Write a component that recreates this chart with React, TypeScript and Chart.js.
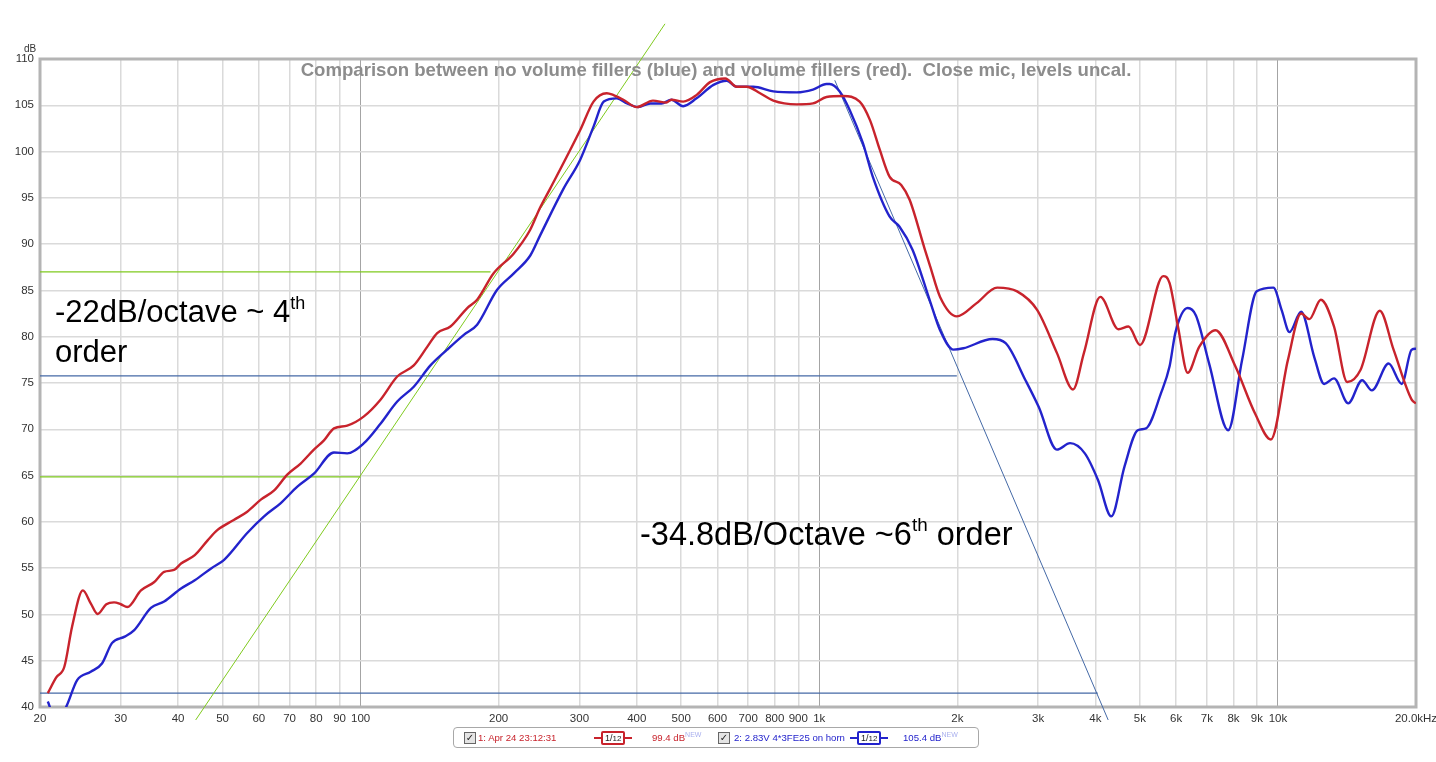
import React, { useEffect, useRef } from 'react';
import { Chart, registerables } from 'chart.js';

Chart.register(...registerables);

// ---- data (frequency Hz, level dB) ----
const redFreq = [20.8, 21.7, 22.6, 23.5, 24.8, 25.8, 26.7, 27.9, 29.0, 30.0, 31.0, 33.2, 35.5, 37.3, 39.2, 40.6, 43.5, 46.4, 48.7, 52.9, 56.6, 60.6, 64.8, 69.2, 74.0, 79.1, 83.2, 87.5, 93.5, 101.7, 110.5, 120.2, 130.6, 139.7, 146.9, 157, 170.8, 179.5, 195, 215.8, 234, 246, 259, 301, 322, 344, 356, 374, 400, 434, 464, 476, 505, 540, 578, 624, 661, 694, 743, 794, 893, 969, 1037, 1126, 1225, 1290, 1355, 1423, 1509, 1574, 1696, 1745, 1834, 1995, 2200, 2443, 2700, 2985, 3300, 3575, 3774, 4100, 4492, 4724, 5005, 5621, 5805, 6054, 6358, 6735, 7310, 8075, 8915, 9652, 10515, 11233, 11710, 12405, 13254, 14165, 15135, 16670, 17870, 19570, 20000];
const redDb = [41.5, 43.2, 44.35, 48.7, 52.6, 51.2, 50.05, 51.1, 51.3, 51.1, 50.8, 52.6, 53.5, 54.6, 54.8, 55.5, 56.4, 58.0, 59.1, 60.2, 61.1, 62.4, 63.4, 65.1, 66.3, 67.8, 68.8, 70.1, 70.4, 71.4, 73.2, 75.7, 76.9, 78.9, 80.4, 81.1, 83.1, 84.0, 86.85, 89.0, 91.5, 93.9, 96.0, 102.3, 105.4, 106.3, 106.1, 105.6, 104.8, 105.5, 105.3, 105.6, 105.4, 106.1, 107.5, 107.9, 107.0, 107.0, 106.3, 105.5, 105.1, 105.2, 105.9, 106.0, 105.4, 103.4, 100.2, 97.3, 96.4, 94.8, 89.55, 87.6, 84.3, 82.2, 83.6, 85.3, 84.9, 82.9, 78.2, 74.3, 78.2, 84.3, 80.8, 81.1, 79.1, 86.55, 85.8, 81.1, 76.1, 78.9, 80.7, 76.8, 71.7, 68.9, 77.5, 82.5, 81.9, 84.0, 81.1, 75.1, 76.4, 82.8, 78.6, 73.2, 72.8];

const blueFreq = [20.8, 21.7, 22.8, 24.1, 25.8, 27.3, 28.7, 30.6, 32.1, 34.9, 37.3, 40.6, 43.5, 47.3, 50.4, 56.6, 61.6, 66.9, 72.8, 79.1, 87.5, 93.5, 101.7, 110.5, 120.2, 130.6, 142, 154.4, 167.9, 179.5, 198.3, 215.8, 234.6, 246.6, 277, 301, 322, 339, 362, 381, 403, 428, 453, 476, 505, 540, 588, 629, 661, 718, 794, 893, 969, 1037, 1054, 1108, 1165, 1245, 1308, 1423, 1495, 1597, 1745, 1834, 1962, 2062, 2386, 2549, 2816, 3010, 3296, 3522, 3793, 4054, 4332, 4630, 4948, 5158, 5560, 5805, 5980, 6358, 6625, 7080, 7790, 8355, 8990, 9775, 10185, 10600, 11233, 12000, 12615, 13254, 14234, 15260, 16030, 17430, 18620, 19570, 20000];
const blueDb = [40.6, 38.5, 40.0, 42.9, 43.8, 44.7, 46.9, 47.6, 48.3, 50.7, 51.4, 52.8, 53.7, 55.0, 55.9, 58.8, 60.6, 62.0, 63.8, 65.2, 67.5, 67.4, 68.5, 70.6, 73.0, 74.6, 76.9, 78.6, 80.2, 81.3, 85.05, 86.85, 88.8, 91.0, 96.0, 99.1, 102.7, 105.4, 105.75, 105.2, 104.8, 105.2, 105.2, 105.6, 104.9, 105.75, 107.2, 107.65, 107.0, 107.0, 106.5, 106.4, 106.7, 107.3, 107.3, 106.5, 104.5, 100.9, 97.3, 93.0, 91.9, 89.4, 83.8, 80.7, 78.6, 78.75, 79.75, 79.3, 75.3, 72.4, 67.8, 68.5, 67.4, 64.5, 60.6, 66.0, 69.9, 70.1, 73.9, 76.8, 80.5, 83.1, 82.3, 77.1, 69.9, 77.5, 84.9, 85.3, 82.9, 80.5, 82.7, 77.8, 74.9, 75.5, 72.8, 75.3, 74.2, 77.1, 74.9, 78.6, 78.7];

const xTickValues = [20, 30, 40, 50, 60, 70, 80, 90, 100, 200, 300, 400, 500, 600, 700, 800, 900, 1000, 2000, 3000, 4000, 5000, 6000, 7000, 8000, 9000, 10000, 20000];
const xTickLabels = ['20', '30', '40', '50', '60', '70', '80', '90', '100', '200', '300', '400', '500', '600', '700', '800', '900', '1k', '2k', '3k', '4k', '5k', '6k', '7k', '8k', '9k', '10k', '20.0kHz'];
const decadeTicks = [100, 1000, 10000];

// annotation lines (frequency, dB)
const greenSlopeF = [43.7, 461];
const greenSlopeDb = [38.6, 113.8];
const greenLevelDb = [87.0, 64.85];
const greenLevelEndF = [192, 100];
const blueSlopeF = [1081, 4265];
const blueSlopeDb = [107.7, 38.6];
const blueLevelDb = [75.76, 41.5];
const blueLevelEndF = [1995, 4047];

const RED = '#c8232c';
const BLUE = '#2323cc';
const GREEN = '#7fca1e';
const STEEL = '#4469a6';

export default function App() {
  const ref = useRef<HTMLCanvasElement>(null);

  useEffect(() => {
    const canvas = ref.current!;
    const overlay = {
      id: 'overlay',
      beforeDatasetsDraw(chart: any) {
        const { ctx, chartArea: a, scales } = chart;
        const xs = scales.x, ys = scales.y;
        ctx.save();
        // frame
        ctx.strokeStyle = '#b4b4b4';
        ctx.lineWidth = 3;
        ctx.strokeRect(a.left, a.top, a.right - a.left, a.bottom - a.top);
        // level lines
        ctx.lineWidth = 1.2;
        const hline = (db: number, fEnd: number, col: string) => {
          const y = ys.getPixelForValue(db);
          ctx.strokeStyle = col;
          ctx.beginPath();
          ctx.moveTo(a.left, y);
          ctx.lineTo(xs.getPixelForValue(fEnd), y);
          ctx.stroke();
        };
        greenLevelDb.forEach((d, i) => hline(d, greenLevelEndF[i], GREEN));
        blueLevelDb.forEach((d, i) => hline(d, blueLevelEndF[i], STEEL));
        const sline = (fs: number[], ds: number[], col: string) => {
          ctx.strokeStyle = col;
          ctx.lineWidth = 1;
          ctx.beginPath();
          ctx.moveTo(xs.getPixelForValue(fs[0]), ys.getPixelForValue(ds[0]));
          ctx.lineTo(xs.getPixelForValue(fs[1]), ys.getPixelForValue(ds[1]));
          ctx.stroke();
        };
        sline(greenSlopeF, greenSlopeDb, GREEN);
        sline(blueSlopeF, blueSlopeDb, STEEL);
        ctx.restore();
      },
    };

    const chart = new Chart(canvas, {
      type: 'line',
      data: {
        datasets: [
          {
            data: redFreq.map((f, i) => ({ x: f, y: redDb[i] })),
            borderColor: RED,
            borderWidth: 2.4,
            pointRadius: 0,
            cubicInterpolationMode: 'monotone',
          },
          {
            data: blueFreq.map((f, i) => ({ x: f, y: blueDb[i] })),
            borderColor: BLUE,
            borderWidth: 2.4,
            pointRadius: 0,
            cubicInterpolationMode: 'monotone',
          },
        ],
      },
      options: {
        responsive: false,
        animation: false,
        devicePixelRatio: 1,
        layout: { padding: { left: 0, right: 20, top: 59, bottom: 0 } },
        plugins: { legend: { display: false }, title: { display: false }, tooltip: { enabled: false } },
        scales: {
          x: {
            type: 'logarithmic',
            min: 20,
            max: 20000,
            border: { display: false },
            afterBuildTicks: (s: any) => {
              s.ticks = xTickValues.map((v) => ({ value: v }));
            },
            afterFit: (s: any) => {
              s.height = 55;
              s.paddingLeft = 0;
              s.paddingRight = 0;
            },
            grid: {
              drawTicks: false,
              color: (c: any) => (decadeTicks.includes(c.tick?.value) ? '#a4a4a4' : '#dadada'),
              lineWidth: (c: any) => (decadeTicks.includes(c.tick?.value) ? 1 : 1.5),
            },
            ticks: {
              autoSkip: false,
              maxRotation: 0,
              padding: 5,
              color: '#333',
              font: { family: 'Liberation Sans', size: 11.5 },
              callback: (v: any) => {
                const i = xTickValues.indexOf(Number(v));
                return i >= 0 ? xTickLabels[i] : '';
              },
            },
          },
          y: {
            type: 'linear',
            min: 40,
            max: 110,
            border: { display: false },
            afterFit: (s: any) => {
              s.width = 40;
              s.paddingTop = 0;
              s.paddingBottom = 0;
            },
            grid: { drawTicks: false, color: '#dadada', lineWidth: 1.5 },
            ticks: {
              stepSize: 5,
              padding: 6,
              color: '#333',
              font: { family: 'Liberation Sans', size: 11.5 },
            },
          },
        },
      },
      plugins: [overlay],
    } as any);
    return () => chart.destroy();
  }, []);

  const sup = { fontSize: '0.58em', position: 'relative' as const, top: '-0.72em' };
  const ann: React.CSSProperties = {
    position: 'absolute',
    fontFamily: 'Liberation Sans, Arial, sans-serif',
    fontSize: 31,
    lineHeight: '36px',
    color: '#000',
    whiteSpace: 'nowrap',
  };
  const chk: React.CSSProperties = {
    position: 'absolute',
    top: 4,
    width: 10,
    height: 10,
    border: '1px solid #666',
    background: '#e4e4e4',
    fontSize: 10,
    lineHeight: '10px',
    textAlign: 'center',
    color: '#222',
    fontFamily: 'DejaVu Sans',
  };
  const icon = (col: string, left: number) => (
    <div style={{ position: 'absolute', left, top: 3, display: 'flex', alignItems: 'center', height: 14 }}>
      <div style={{ width: 7, height: 2, background: col }} />
      <div
        style={{
          border: `2px solid ${col}`,
          borderRadius: 2,
          height: 10,
          padding: '0 2px',
          fontSize: 9,
          lineHeight: '10px',
          color: '#222',
          fontFamily: 'Liberation Sans',
        }}
      >
        1/<span style={{ fontSize: 8 }}>12</span>
      </div>
      <div style={{ width: 7, height: 2, background: col }} />
    </div>
  );
  const newTag = { fontSize: 7, color: '#aab0ee', position: 'relative' as const, top: -4 };

  return (
    <div style={{ position: 'absolute', left: 0, top: 0, width: 1436, height: 762, background: '#fff', overflow: 'hidden' }}>
      <canvas ref={ref} width={1436} height={762} style={{ position: 'absolute', left: 0, top: 0, width: 1436, height: 762 }} />
      <div style={{ position: 'absolute', left: 24, top: 43, fontFamily: 'Liberation Sans', fontSize: 10, color: '#333' }}>dB</div>
      <div
        style={{
          position: 'absolute',
          left: 216,
          width: 1000,
          top: 60,
          textAlign: 'center',
          fontFamily: 'Liberation Sans, Arial, sans-serif',
          fontWeight: 'bold',
          fontSize: 18.6,
          lineHeight: '20px',
          color: '#8c8c8c',
          whiteSpace: 'pre',
        }}
      >
        {'Comparison between no volume fillers (blue) and volume fillers (red).  Close mic, levels uncal.'}
      </div>
      <div style={{ ...ann, left: 55, top: 294 }}>
        -22dB/octave ~ 4<span style={sup}>th</span>
        <br />
        order
      </div>
      <div style={{ ...ann, fontSize: 32.5, left: 640, top: 516 }}>
        -34.8dB/Octave ~6<span style={sup}>th</span> order
      </div>
      <div
        style={{
          position: 'absolute',
          left: 453,
          top: 727,
          width: 526,
          height: 21,
          border: '1px solid #a8a8a8',
          borderRadius: 4,
          boxSizing: 'border-box',
          fontFamily: 'Liberation Sans, Arial, sans-serif',
          fontSize: 9.6,
          lineHeight: '19px',
          whiteSpace: 'nowrap',
        }}
      >
        <div style={{ ...chk, left: 10 }}>✓</div>
        <div style={{ position: 'absolute', left: 24, top: 0, color: RED }}>1: Apr 24 23:12:31</div>
        {icon(RED, 140)}
        <div style={{ position: 'absolute', left: 198, top: 0, color: RED }}>
          99.4 dB<span style={newTag}>NEW</span>
        </div>
        <div style={{ ...chk, left: 264 }}>✓</div>
        <div style={{ position: 'absolute', left: 280, top: 0, color: BLUE }}>2: 2.83V 4*3FE25 on horn</div>
        {icon(BLUE, 396)}
        <div style={{ position: 'absolute', left: 449, top: 0, color: BLUE }}>
          105.4 dB<span style={newTag}>NEW</span>
        </div>
      </div>
    </div>
  );
}
